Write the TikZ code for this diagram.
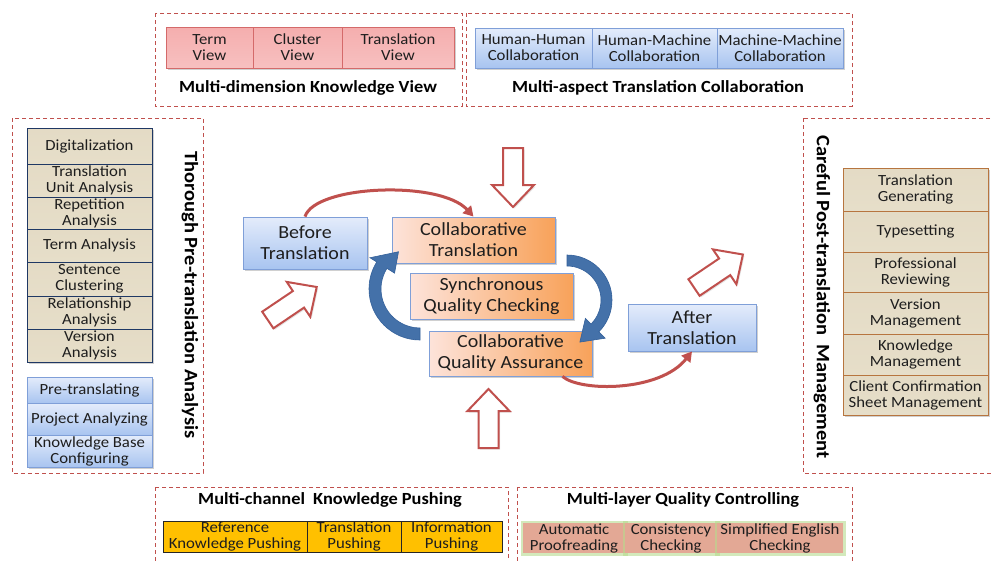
\documentclass[tikz,border=0pt]{standalone}
\usepackage{fontspec}
\setmainfont{Carlito}[FakeStretch=1.08]
\usetikzlibrary{shadows,arrows.meta,calc}
\definecolor{dashred}{HTML}{C0504D}
\definecolor{txt}{HTML}{1E1E1E}
\definecolor{pinkline}{HTML}{D46A6A}
\definecolor{pinktop}{HTML}{F5AEAE}
\definecolor{pinkmid}{HTML}{FBD6D6}
\definecolor{pinkbot}{HTML}{F7C0C0}
\definecolor{blueline}{HTML}{7F9FD8}
\definecolor{bluetop}{HTML}{E4ECFB}
\definecolor{bluebot}{HTML}{A8C4F0}
\definecolor{beigetop}{HTML}{E4DBC5}
\definecolor{beigemid}{HTML}{F2EDE1}
\definecolor{beigebot}{HTML}{E6DEC9}
\definecolor{navyline}{HTML}{1F3864}
\definecolor{brownline}{HTML}{B7753F}
\definecolor{orleft}{HTML}{FDE3DA}
\definecolor{ormid}{HTML}{F9B47E}
\definecolor{orright}{HTML}{F8A25A}
\definecolor{yell}{HTML}{FFC000}
\definecolor{salmon}{HTML}{E3A895}
\definecolor{glowgreen}{HTML}{B7DB8E}
\definecolor{arrowblue}{HTML}{4471A9}
\definecolor{arrowbluedark}{HTML}{33609A}
\newcommand\hollowarrow[3]{%
  \begin{scope}[shift={(#1,#2)},rotate=#3]
    \draw[harrow] (0,-10) -- (37,-10) -- (37,-21) -- (59,0) -- (37,21) -- (37,10) -- (0,10) -- cycle;
  \end{scope}}
\begin{document}
\begin{tikzpicture}[x=1pt,y=-1pt,
  wh/.style 2 args={minimum width=#1pt, minimum height=#2pt},
  shad/.style={drop shadow={shadow xshift=1.5pt,shadow yshift=-1.5pt,opacity=0.3,fill=black!60}},
  cell/.style={draw, align=center, inner sep=0pt, text=txt, font=\fontsize{15.5}{16}\selectfont},
  pinkcell/.style={cell, shad, draw=pinkline, line width=0.8pt, top color=pinktop, middle color=pinkmid, bottom color=pinkbot},
  bluecell/.style={cell, shad, draw=blueline, line width=0.8pt, top color=bluetop, bottom color=bluebot},
  beigecell/.style={cell, shad, line width=1pt, top color=beigetop, middle color=beigemid, bottom color=beigebot},
  lbeige/.style={beigecell, draw=navyline},
  rbeige/.style={beigecell, draw=brownline},
  yellcell/.style={cell, draw=black!85, line width=0.9pt, fill=yell},
  salmcell/.style={cell, draw=none, fill=salmon, preaction={draw=glowgreen, line width=5pt, draw opacity=0.6}},
  bigblue/.style={bluecell, font=\fontsize{18.5}{21}\selectfont},
  orcell/.style={cell, shad, draw=blueline, line width=0.8pt, left color=orleft, middle color=ormid, right color=orright, font=\fontsize{18.5}{21}\selectfont},
  dashbox/.style={draw=dashred, line width=1pt, dash pattern=on 4pt off 3pt},
  title/.style={font=\fontsize{17}{20}\selectfont\bfseries, text=black, inner sep=0pt},
  vtitle/.style={font=\fontsize{19}{22}\selectfont\bfseries, text=black, inner sep=0pt, rotate=-90},
  redcurve/.style={draw=dashred, line width=3pt, -{Triangle[length=10pt,width=11pt]}},
  harrow/.style={draw=dashred, line width=2pt, fill=white, line join=miter, drop shadow={shadow xshift=1.5pt,shadow yshift=-1.5pt,opacity=0.2}},
  barrow/.style={fill=arrowblue, draw=arrowbluedark, line width=0.6pt}
]
\useasboundingbox (0,0) rectangle (991,560);
\fill[white] (0,0) rectangle (991,560);
\clip (0,0) rectangle (991,560);

% dashed frames
\draw[dashbox] (155,13) rectangle (462,106);
\draw[dashbox] (466,13) rectangle (852,106);
\draw[dashbox] (12,118) rectangle (203,473);
\draw[dashbox] (803,118) rectangle (1000,473);
\draw[dashbox] (155,487) rectangle (508,570);
\draw[dashbox] (517,487) rectangle (852,570);

% top-left: knowledge view
\node[pinkcell, wh={87}{41}] (tv) at (209.5,47.5) {Term\\View};
\node[pinkcell, wh={89}{41}] (cv) at (297.5,47.5) {Cluster\\View};
\node[pinkcell, wh={112}{41}] (trv) at (398,47.5) {Translation\\View};
\node[title] (t1) at (308,88) {Multi-dimension Knowledge View};

% top-right: collaboration
\node[bluecell, wh={117}{40}] (hh) at (533.5,48) {Human-Human\\Collaboration};
\node[bluecell, wh={125}{40}] (hm) at (654.5,48) {Human-Machine\\Collaboration};
\node[bluecell, wh={126}{40}] (mm) at (780,48) {Machine-Machine\\Collaboration};
\node[title] (t2) at (658,88) {Multi-aspect Translation Collaboration};

% left column
\node[lbeige, wh={125}{36}] (l1) at (89.5,146) {Digitalization};
\node[lbeige, wh={125}{33}] (l2) at (89.5,180.5) {Translation\\Unit Analysis};
\node[lbeige, wh={125}{32}] (l3) at (89.5,213) {Repetition\\Analysis};
\node[lbeige, wh={125}{33}] (l4) at (89.5,245.5) {Term Analysis};
\node[lbeige, wh={125}{34}] (l5) at (89.5,279) {Sentence\\Clustering};
\node[lbeige, wh={125}{33}] (l6) at (89.5,312.5) {Relationship\\Analysis};
\node[lbeige, wh={125}{33}] (l7) at (89.5,345.5) {Version\\Analysis};
\node[bluecell, wh={125}{26}] (lb1) at (89.5,390) {Pre-translating};
\node[bluecell, wh={125}{32}] (lb2) at (89.5,419) {Project Analyzing};
\node[bluecell, wh={125}{32}] (lb3) at (89.5,451) {Knowledge Base\\Configuring};
\node[vtitle] (t3) at (190,295) {Thorough Pre-translation Analysis};

% right column
\node[vtitle] (t4) at (822,297) {Careful Post-translation\hspace{4pt} Management};
\node[rbeige, wh={145}{43}] (r1) at (915.5,189.5) {Translation\\Generating};
\node[rbeige, wh={145}{41}] (r2) at (915.5,231.5) {Typesetting};
\node[rbeige, wh={145}{40}] (r3) at (915.5,272) {Professional\\Reviewing};
\node[rbeige, wh={145}{42}] (r4) at (915.5,313) {Version\\Management};
\node[rbeige, wh={145}{41}] (r5) at (915.5,354.5) {Knowledge\\Management};
\node[rbeige, wh={145}{40}] (r6) at (915.5,395) {Client Confirmation\\Sheet Management};

% bottom-left
\node[title] (t5) at (330,500) {Multi-channel\hspace{4pt} Knowledge Pushing};
\node[yellcell, wh={144}{31}] (y1) at (235,536.5) {Reference\\Knowledge Pushing};
\node[yellcell, wh={94}{31}] (y2) at (354,536.5) {Translation\\Pushing};
\node[yellcell, wh={101}{31}] (y3) at (451.5,536.5) {Information\\Pushing};

% bottom-right
\node[title] (t6) at (683,500) {Multi-layer Quality Controlling};
\node[salmcell, wh={102}{30}] (s1) at (574,538) {Automatic\\Proofreading};
\node[salmcell, wh={92}{30}] (s2) at (671,538) {Consistency\\Checking};
\node[salmcell, wh={126}{30}] (s3) at (780,538) {Simplified English\\Checking};

% hollow block arrows
\hollowarrow{513}{148}{-90}
\hollowarrow{488.5}{448}{90}
\hollowarrow{267.8}{320}{34}
\hollowarrow{694}{287.5}{34}

% centre boxes
\node[bigblue, wh={124}{52}] (bt) at (305,243) {Before\\Translation};
\node[orcell, wh={163}{46}] (ct) at (473.5,240) {Collaborative\\Translation};
\node[orcell, wh={163}{46}] (sqc) at (491.5,296) {Synchronous\\Quality Checking};
\node[orcell, wh={163}{45}] (cqa) at (510.5,353.5) {Collaborative\\Quality Assurance};
\node[bigblue, wh={128}{47}] (at) at (692,327.5) {After\\Translation};

% blue circular arrows
\coordinate (Lc) at (420,289);
\fill[barrow] ($(Lc)+(90:51)$) arc[start angle=90, end angle=212, radius=51]
  -- ($(Lc)+(212:59)$) -- ($(Lc)+(240:43)$) -- ($(Lc)+(212:30)$) -- ($(Lc)+(212:39)$)
  arc[start angle=212, end angle=90, radius=39] -- cycle;
\coordinate (Rc) at (567,300);
\fill[barrow] ($(Rc)+(-90:45)$) arc[start angle=-90, end angle=45, radius=45]
  -- ($(Rc)+(45:54)$) -- ($(Rc)+(73:44)$) -- ($(Rc)+(45:26)$) -- ($(Rc)+(45:34)$)
  arc[start angle=45, end angle=-90, radius=34] -- cycle;

% red curved connectors
\draw[redcurve] (bt.north) .. controls (315,185) and (440,180) .. (ct.north);
\draw[redcurve] ([xshift=-30pt]cqa.south east) .. controls (580,392) and (660,392) .. (at.south);
\end{tikzpicture}
\end{document}
